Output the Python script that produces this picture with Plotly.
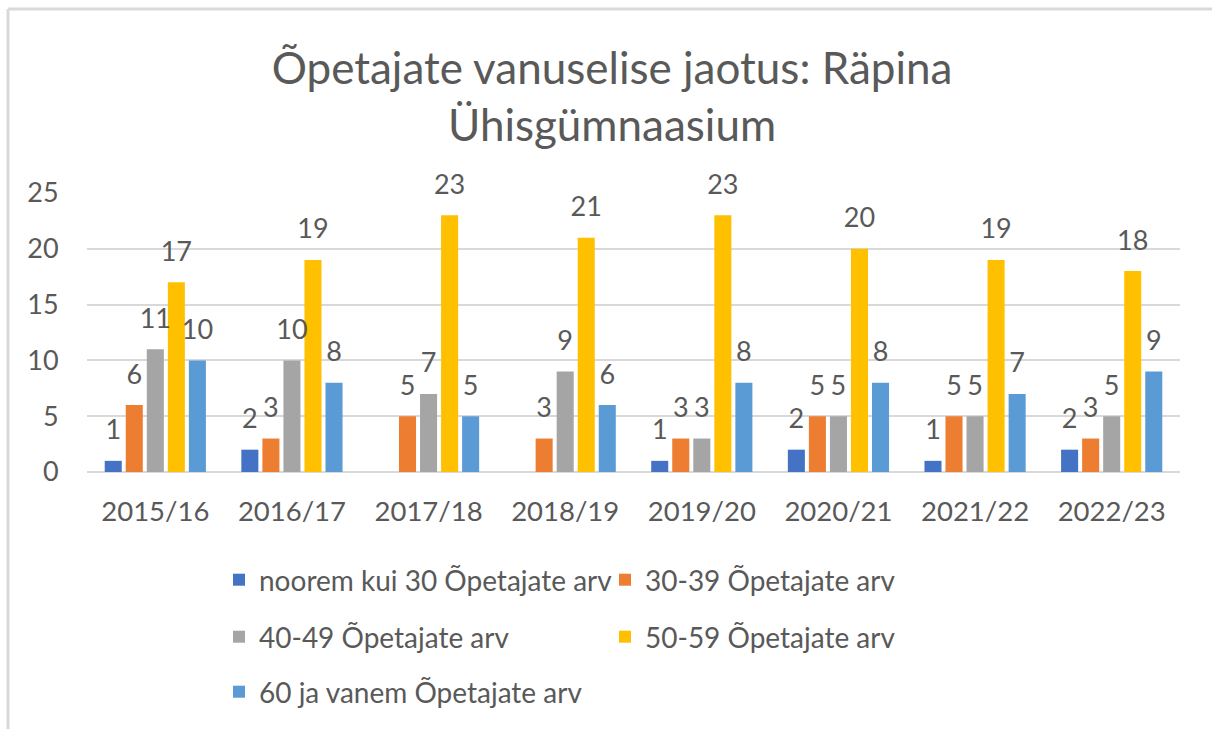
import plotly.graph_objects as go

categories = ["2015/16", "2016/17", "2017/18", "2018/19", "2019/20", "2020/21", "2021/22", "2022/23"]
series_names = [
    "noorem kui 30 Õpetajate arv",
    "30-39 Õpetajate arv",
    "40-49 Õpetajate arv",
    "50-59 Õpetajate arv",
    "60 ja vanem Õpetajate arv",
]
under30 = [1, 2, None, None, 1, 2, 1, 2]
age30_39 = [6, 3, 5, 3, 3, 5, 5, 3]
age40_49 = [11, 10, 7, 9, 3, 5, 5, 5]
age50_59 = [17, 19, 23, 21, 23, 20, 19, 18]
age60plus = [10, 8, 5, 6, 8, 8, 7, 9]
series_values = [under30, age30_39, age40_49, age50_59, age60plus]
colors = ["#4472C4", "#ED7D31", "#A5A5A5", "#FFC000", "#5B9BD5"]
legend_ids = ["legend", "legend", "legend2", "legend2", "legend3"]

W, H = 1212, 729
ML, MR, MT, MB = 87, 32, 193, 257
FONT = "Lato"
TXT = "#595959"
GRID = "#D9D9D9"

fig = go.Figure()
for name, vals, col, lg in zip(series_names, series_values, colors, legend_ids):
    fig.add_trace(go.Bar(
        x=categories, y=vals, name=name, marker=dict(color=col, line=dict(width=0)),
        legend=lg, hoverinfo="x+y+name",
    ))
# data labels aligned with the grouped bars
for name, vals in zip(series_names, series_values):
    fig.add_trace(go.Scatter(
        x=categories, y=vals, mode="markers+text",
        text=[("" if v is None else str(v)) for v in vals],
        textposition="top center",
        textfont=dict(family=FONT, size=27, color=TXT),
        marker=dict(size=22, color="rgba(0,0,0,0)"),
        showlegend=False, hoverinfo="skip", cliponaxis=False,
    ))

pw = W - ML - MR
ph = H - MT - MB
def px_x(p):
    return (p - ML) / pw
def px_y(p):
    return (H - MB - p) / ph

fig.update_layout(
    width=W, height=H,
    margin=dict(l=ML, r=MR, t=MT, b=MB),
    paper_bgcolor="white", plot_bgcolor="white",
    barmode="group", bargap=0.23, bargroupgap=0.19,
    scattermode="group", scattergap=0.23,
    font=dict(family=FONT, color=TXT),
    title=dict(
        text="Õpetajate vanuselise jaotus: Räpina<br>Ühisgümnaasium",
        x=0.505, xref="container", xanchor="center",
        y=1 - 84 / H, yref="container", yanchor="middle",
        font=dict(family=FONT, size=44, color=TXT),
    ),
    xaxis=dict(
        type="category", showgrid=False, showline=False, zeroline=False,
        ticks="outside", ticklen=15, tickcolor="rgba(0,0,0,0)",
        tickfont=dict(family=FONT, size=27.5, color=TXT),
    ),
    yaxis=dict(
        range=[0, 25], dtick=5, showgrid=True, gridcolor=GRID, gridwidth=2,
        zeroline=True, zerolinecolor=GRID, zerolinewidth=2, showline=False,
        ticks="outside", ticklen=22, tickcolor="rgba(0,0,0,0)",
        tickfont=dict(family=FONT, size=27, color=TXT),
    ),
    shapes=[
        dict(type="line", xref="paper", yref="paper", x0=px_x(8), x1=px_x(W + 20),
             y0=px_y(9), y1=px_y(9), line=dict(color=GRID, width=3)),
        dict(type="line", xref="paper", yref="paper", x0=px_x(8), x1=px_x(8),
             y0=px_y(9), y1=px_y(H + 20), line=dict(color=GRID, width=3)),
    ],
)
leg_common = dict(orientation="h", xref="container", yref="container",
                  xanchor="left", yanchor="middle", entrywidth=341,
                  font=dict(family=FONT, size=28, color=TXT),
                  bgcolor="rgba(0,0,0,0)", traceorder="normal")
fig.update_layout(
    legend=dict(leg_common, x=219 / W, y=1 - 580 / H),
    legend2=dict(leg_common, x=219 / W, y=1 - 637 / H),
    legend3=dict(leg_common, x=219 / W, y=1 - 692 / H),
)

fig.write_html("out.html", config={"displayModeBar": False},
               post_script="document.body.style.margin='0';")
